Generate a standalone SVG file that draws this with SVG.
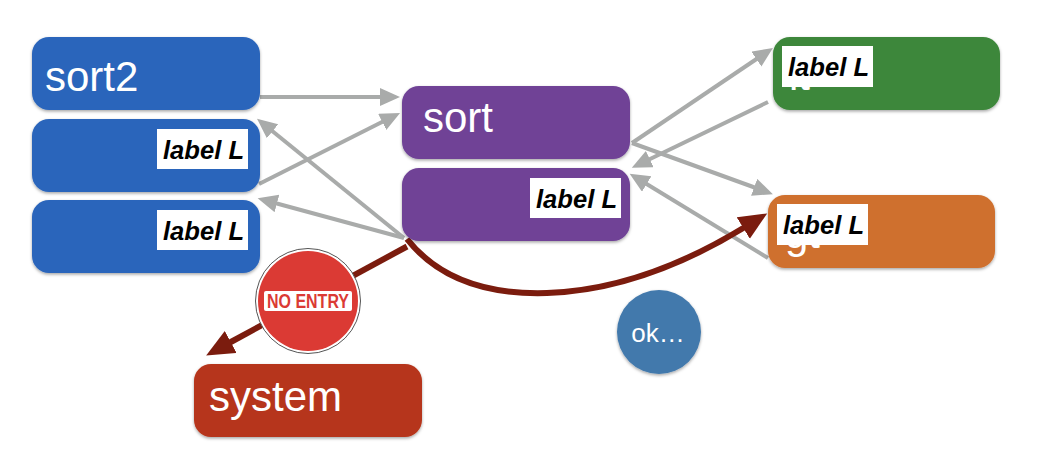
<svg xmlns="http://www.w3.org/2000/svg" width="1050" height="458" viewBox="0 0 1050 458">
<style>
.n{stroke:none;filter:url(#sh)}
.t{font-family:"Liberation Sans",Arial,sans-serif;font-size:42px;fill:#fff}
.lb{fill:#fff}
.lt{font-family:"Liberation Sans",Arial,sans-serif;font-size:25.600px;font-weight:bold;font-style:italic;fill:#000}
.g{fill:none;stroke:#a9abaa;stroke-width:4;marker-end:url(#ga)}
.r{fill:none;stroke:#7b1c0e;stroke-width:6;marker-end:url(#ra)}
</style>
<defs>
<filter id="sh" x="-5%" y="-10%" width="110%" height="125%"><feDropShadow dx="0" dy="1.500" stdDeviation="1.500" flood-color="#000" flood-opacity="0.35"/></filter>
<marker id="ga" markerUnits="userSpaceOnUse" markerWidth="22" markerHeight="20" refX="2" refY="9" orient="auto"><path d="M0 0L20 9L0 18Z" fill="#a9abaa"/></marker>
<marker id="ra" markerUnits="userSpaceOnUse" markerWidth="30" markerHeight="26" refX="2" refY="12.500" orient="auto"><path d="M0 0L28 12.500L0 25Z" fill="#7b1c0e"/></marker>
</defs>
<g id="connectors">
<path class="g" d="M260 97H382"/>
<path class="g" d="M259 184L384 121"/>
<path class="g" d="M404 238L271 130"/>
<path class="g" d="M404 238L275 203"/>
<path class="g" d="M632 143L758 58"/>
<path class="g" d="M632 143L756 188"/>
<path class="g" d="M768 102L648 160"/>
<path class="g" d="M768 258L645 183"/>
<path class="r" d="M407 239Q452 296 547 293Q642 290 745 227"/>
<path class="r" d="M407 246.500L229 343"/>
</g>
<g id="sort2"><rect class="n" x="32" y="37" width="228" height="73" rx="17" fill="#2b65bb"/><text class="t" x="45" y="91">sort2</text></g>
<g id="node-left-2"><rect class="n" x="32" y="119" width="228" height="73" rx="17" fill="#2b65bb"/><rect class="lb" x="157" y="129" width="91" height="40"/><text class="lt" x="163" y="159">label L</text></g>
<g id="node-left-3"><rect class="n" x="32" y="200" width="228" height="73" rx="17" fill="#2b65bb"/><rect class="lb" x="157" y="210" width="91" height="40"/><text class="lt" x="163" y="240">label L</text></g>
<g id="sort"><rect class="n" x="402" y="86" width="228" height="73" rx="17" fill="#6f4296"/><text class="t" x="423" y="132">sort</text></g>
<g id="node-mid-2"><rect class="n" x="402" y="168" width="228" height="73" rx="17" fill="#6f4296"/><rect class="lb" x="530" y="178" width="91" height="40"/><text class="lt" x="536" y="208">label L</text></g>
<g id="lt"><rect class="n" x="773" y="37" width="227" height="73" rx="17" fill="#3e873b"/><text class="t" x="789" y="90">lt</text><rect class="lb" x="782" y="46" width="91" height="41"/><text class="lt" x="788" y="76">label L</text></g>
<g id="gt"><rect class="n" x="768" y="195" width="227" height="73" rx="17" fill="#cf702e"/><text class="t" x="785" y="248">gt</text><rect class="lb" x="777" y="204" width="91" height="41"/><text class="lt" x="783" y="234">label L</text></g>
<g id="system"><rect class="n" x="194" y="364" width="228" height="73" rx="17" fill="#b6351a"/><text class="t" x="209" y="411">system</text></g>
<g id="ok"><circle class="n" cx="659" cy="332" r="42" fill="#4279ac"/><text x="658" y="342" text-anchor="middle" font-family="'Liberation Sans',Arial,sans-serif" font-size="26" fill="#fff">ok…</text></g>
<g id="no-entry">
<circle cx="308" cy="301" r="52.500" fill="#fff" stroke="#555" stroke-width="1"/>
<circle cx="308" cy="301" r="50" fill="#db3a34"/>
<rect x="264" y="291" width="88" height="20" rx="2" fill="#fff"/>
<text x="308" y="308" text-anchor="middle" font-family="'Liberation Sans',Arial,sans-serif" font-size="20" font-weight="bold" fill="#db3a34" textLength="82" lengthAdjust="spacingAndGlyphs">NO ENTRY</text>
</g>
</svg>
